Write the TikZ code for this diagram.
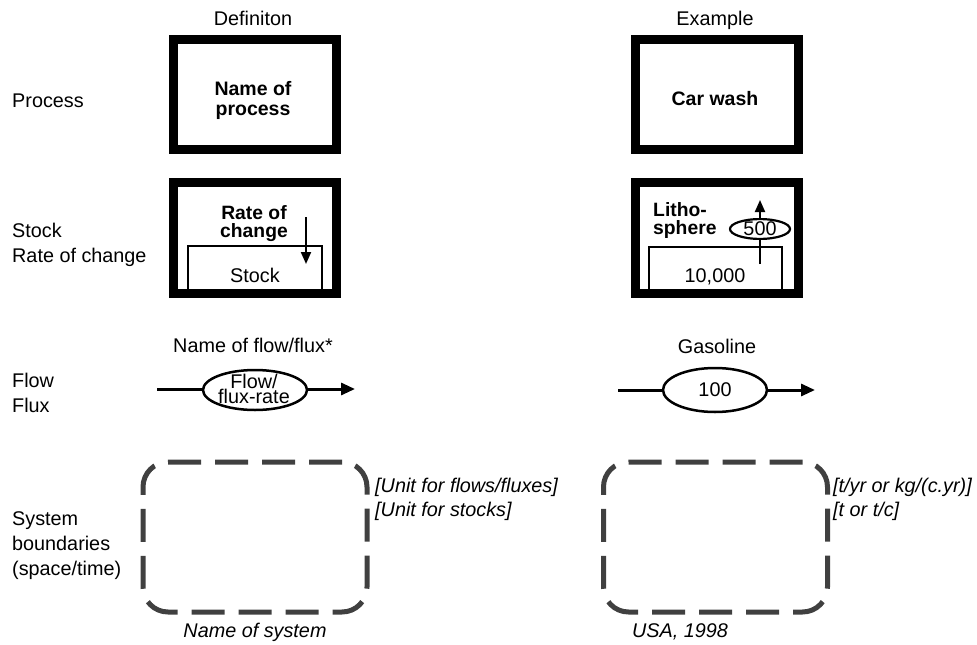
\documentclass[tikz,border=0pt]{standalone}
\usepackage{fontspec}
\setmainfont{Liberation Sans}
\usetikzlibrary{arrows.meta,shapes.geometric}
\definecolor{bgray}{HTML}{404040}
\begin{document}
\begin{tikzpicture}[x=1pt,y=-1pt,
  txt/.style={inner sep=0pt, font=\fontsize{19.8}{24}\selectfont},
  itx/.style={inner sep=0pt, font=\fontsize{19.8}{24}\selectfont\itshape},
  bld/.style={inner sep=0pt, align=center, font=\fontsize{19.5}{19.5}\selectfont\bfseries},
  bldt/.style={inner sep=0pt, font=\fontsize{19.3}{17.5}\selectfont\bfseries},
  heavy/.style={draw, line width=9pt, minimum width=163pt, inner sep=0pt},
  stockline/.style={line width=2pt},
  thinarrow/.style={line width=2pt, -{Triangle[length=12pt,width=10pt]}},
  flowline/.style={line width=3pt},
  flowarrow/.style={line width=3pt, -{Triangle[length=14pt,width=12pt]}},
  flowell/.style={draw, ellipse, line width=2.5pt, minimum width=104pt, minimum height=40pt, inner sep=0pt, font=\fontsize{19.8}{24}\selectfont},
  smallell/.style={draw, ellipse, line width=2.2pt, minimum width=60pt, minimum height=19pt, inner sep=0pt, font=\fontsize{19.8}{24}\selectfont},
  bound/.style={draw=bgray, line width=5pt, rounded corners=25pt, dash pattern=on 33pt off 14pt, minimum width=224pt, minimum height=150pt, inner sep=0pt}
]
\useasboundingbox (0,0) rectangle (977,645);

% headings
\node[txt, anchor=base] (defh) at (253,25) {Definiton};
\node[txt, anchor=base] (exh) at (715,25) {Example};

% left labels
\node[txt, anchor=base west] (lproc) at (12,107) {Process};
\node[txt, anchor=base west] (lstock) at (12,237) {Stock};
\node[txt, anchor=base west] (lrate) at (12,262) {Rate of change};
\node[txt, anchor=base west] (lflow) at (12,387) {Flow};
\node[txt, anchor=base west] (lflux) at (12,412) {Flux};
\node[txt, anchor=base west] (lsys) at (12,525) {System};
\node[txt, anchor=base west] (lbound) at (12,550) {boundaries};
\node[txt, anchor=base west] (lspace) at (12,575) {(space/time)};

% process boxes
\node[heavy, minimum height=110pt] (procd) at (255,94.5) {};
\node[bld] (procdt) at (253,100.4) {Name of\\process};
\node[heavy, minimum height=110pt] (proce) at (716.5,94.5) {};
\node[bld, anchor=base] (procet) at (715,105) {Car wash};

% stock boxes
\node[heavy, minimum height=111pt] (stockd) at (255,238) {};
\draw[stockline] (188,289) -- (188,246) -- (322,246) -- (322,289);
\node[bldt, align=center] (ratet) at (254,223.4) {Rate of\\change};
\node[txt, anchor=base] (stockt) at (255,282) {Stock};
\coordinate (ra1) at (306,217);
\coordinate (ra2) at (306,264);
\draw[thinarrow] (ra1) -- (ra2);

\node[heavy, minimum height=111pt] (stocke) at (716.5,238) {};
\draw[stockline] (649,289) -- (649,247) -- (782,247) -- (782,289);
\node[bldt, align=left, anchor=west] (litho) at (653,220.4) {Litho-\\sphere};
\node[smallell] (e500) at (760,229) {500};
\coordinate (lb) at (760,264);
\coordinate (lt) at (760,200);
\draw[stockline] (lb) -- (e500.south);
\draw[thinarrow] (e500.north) -- (lt);
\node[txt, anchor=base] (tenk) at (715,282) {10,000};

% flows
\node[txt, anchor=base] (flowh) at (253,352) {Name of flow/flux*};
\coordinate (fa) at (157,389);
\coordinate (fb) at (355,389);
\node[flowell] (fe) at (255,390) {};
\draw[flowline] (fa) -- (fa -| fe.west);
\draw[flowarrow] (fb -| fe.east) -- (fb);
\node[inner sep=0pt, align=center, font=\fontsize{19.8}{15}\selectfont] (fet) at (254,388.5) {Flow/\\flux-rate};

\node[txt, anchor=base] (gash) at (717,353) {Gasoline};
\coordinate (ga) at (618,390);
\coordinate (gb) at (815,390);
\node[flowell, minimum height=44pt] (ge) at (715,390) {100};
\draw[flowline] (ga) -- (ge);
\draw[flowarrow] (ge) -- (gb);

% system boundaries
\node[bound] (sysd) at (255,537) {};
\node[itx, anchor=base west] (u1) at (375,492) {[Unit for flows/fluxes]};
\node[itx, anchor=base west] (u2) at (375,516) {[Unit for stocks]};
\node[itx, anchor=base] (sysn) at (255,637) {Name of system};

\node[bound] (syse) at (715.5,537) {};
\node[itx, anchor=base west] (v1) at (833,492) {[t/yr or kg/(c.yr)]};
\node[itx, anchor=base west] (v2) at (833,516) {[t or t/c]};
\node[itx, anchor=base] (sysx) at (680,637) {USA, 1998};
\end{tikzpicture}
\end{document}
